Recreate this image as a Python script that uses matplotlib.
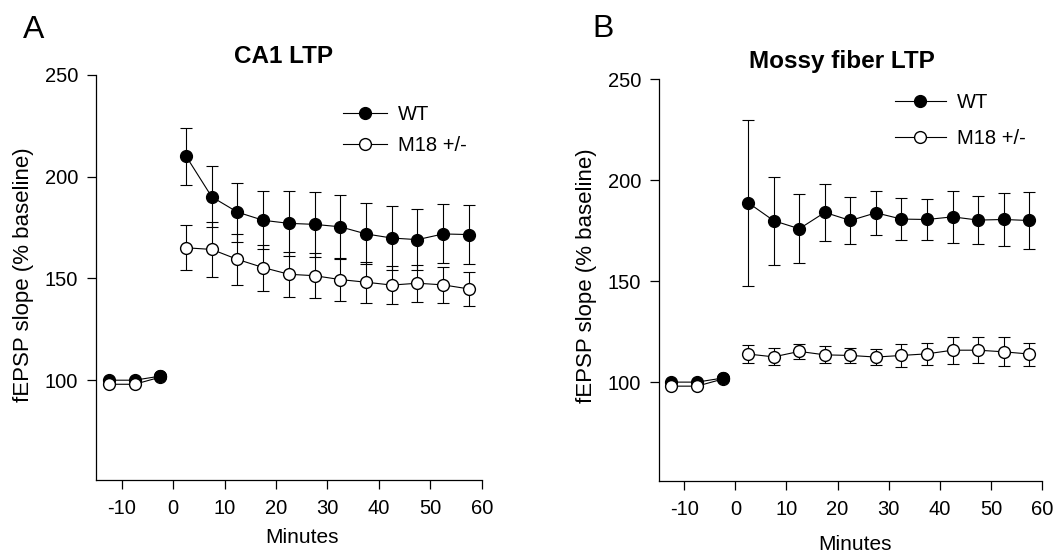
import matplotlib
matplotlib.use('Agg')
import matplotlib.pyplot as plt
import numpy as np

plt.rcParams['font.family'] = ['Liberation Sans', 'DejaVu Sans']
plt.rcParams['axes.unicode_minus'] = False

# time points (minutes)
t_base = [-12.5, -7.5, -2.5]
t_post = [2.5, 7.5, 12.5, 17.5, 22.5, 27.5, 32.5, 37.5, 42.5, 47.5, 52.5, 57.5]

# CA1 LTP
ca1_wt_base = [100, 100, 102]
ca1_m18_base = [98, 98, 101.5]
ca1_wt = [210, 190, 182.5, 178.5, 177, 176.5, 175.3, 171.8, 169.8, 169, 171.8, 171.5]
ca1_wt_err = [14, 15, 14.5, 14.3, 16, 16, 15.5, 15, 15.5, 15, 14.5, 14.7]
ca1_m18 = [165, 164.2, 159.3, 155.3, 152, 151.3, 149.4, 148.1, 146.7, 147.6, 146.8, 144.8]
ca1_m18_err = [11, 13.5, 12.5, 11.3, 11, 10.9, 10.3, 10, 9.5, 9, 9, 8.3]

# Mossy fiber LTP
mf_wt_base = [100, 100, 102]
mf_m18_base = [98, 98, 101.5]
mf_wt = [188.8, 179.9, 175.9, 184, 180, 183.8, 180.7, 180.5, 181.8, 180.2, 180.5, 180]
mf_wt_err = [41, 21.7, 17, 14, 11.7, 11, 10.4, 10.3, 12.8, 11.9, 12.9, 13.9]
mf_m18 = [113.9, 112.5, 115.2, 113.5, 113.2, 112.4, 113.2, 114, 115.8, 115.8, 115, 113.9]
mf_m18_err = [4.6, 4.2, 3.6, 4.2, 3.6, 3.9, 5.6, 5.5, 6.6, 6.3, 7.1, 5.7]

fig = plt.figure(figsize=(10.59, 5.53), dpi=100)
ax1 = fig.add_axes([0.0907, 0.132, 0.3642, 0.733])
ax2 = fig.add_axes([0.622, 0.130, 0.362, 0.727])

ms = 8.5
lw = 0.8


def draw_panel(ax, wt_base, m18_base, wt, wt_err, m18, m18_err):
    # error bars
    ax.errorbar(t_post, wt, yerr=wt_err, fmt='none', ecolor='black',
                elinewidth=lw, capsize=4.3, capthick=lw, zorder=1)
    ax.errorbar(t_post, m18, yerr=m18_err, fmt='none', ecolor='black',
                elinewidth=lw, capsize=4.3, capthick=lw, zorder=1)
    # baseline
    ax.plot(t_base, wt_base, '-o', color='black', mfc='black', mec='black',
            ms=ms, lw=lw, zorder=2)
    ax.plot(t_base, m18_base, '-o', color='black', mfc='white', mec='black',
            ms=ms, lw=lw, zorder=3)
    ax.plot(t_base[-1:], wt_base[-1:], 'o', color='black', ms=ms, zorder=4)
    # post-tetanus
    h_wt, = ax.plot(t_post, wt, '-o', color='black', mfc='black', mec='black',
                    ms=ms, lw=lw, zorder=3, label='WT')
    h_m18, = ax.plot(t_post, m18, '-o', color='black', mfc='white', mec='black',
                     ms=ms, lw=lw, zorder=3, label='M18 +/-')

    ax.set_xlim(-15, 60)
    ax.set_ylim(51, 250)
    ax.set_xticks([-10, 0, 10, 20, 30, 40, 50, 60])
    ax.set_yticks([100, 150, 200, 250])
    ax.spines['top'].set_visible(False)
    ax.spines['right'].set_visible(False)
    for s in ['left', 'bottom']:
        ax.spines[s].set_linewidth(0.9)
    ax.tick_params(axis='both', direction='out', length=6.8, width=0.9,
                   labelsize=14.5)
    ax.tick_params(axis='y', pad=6)
    ax.tick_params(axis='x', pad=7)
    ax.set_xlabel('Minutes', fontsize=15)
    ax.set_ylabel('fEPSP slope (% baseline)', fontsize=16)
    return h_wt, h_m18


h1 = draw_panel(ax1, ca1_wt_base, ca1_m18_base, ca1_wt, ca1_wt_err, ca1_m18, ca1_m18_err)
h2 = draw_panel(ax2, mf_wt_base, mf_m18_base, mf_wt, mf_wt_err, mf_m18, mf_m18_err)

ax1.xaxis.set_label_coords(0.533, -0.118)
ax2.xaxis.set_label_coords(0.512, -0.135)
ax1.yaxis.set_label_coords(-0.16, 0.506)
ax2.yaxis.set_label_coords(-0.16, 0.512)

ax1.text(0.486, 1.029, 'CA1 LTP', transform=ax1.transAxes, ha='center',
         va='baseline', fontsize=17.5, fontweight='bold')
ax2.text(0.477, 1.027, 'Mossy fiber LTP', transform=ax2.transAxes, ha='center',
         va='baseline', fontsize=17.5, fontweight='bold')

ax1.legend(handles=list(h1), loc='upper left', bbox_to_anchor=(0.64, 0.925),
           frameon=False, fontsize=14.5, handlelength=2.2, handletextpad=0.55,
           labelspacing=0.6, borderpad=0, borderaxespad=0)
ax2.legend(handles=list(h2), loc='upper left', bbox_to_anchor=(0.617, 0.965),
           frameon=False, fontsize=14.5, handlelength=2.5, handletextpad=0.55,
           labelspacing=0.85, borderpad=0, borderaxespad=0)

fig.text(23 / 1059, 1 - 38 / 553, 'A', fontsize=23, va='baseline', ha='left')
fig.text(592 / 1059, 1 - 37 / 553, 'B', fontsize=23, va='baseline', ha='left')

fig.savefig('out.png', dpi=100)
